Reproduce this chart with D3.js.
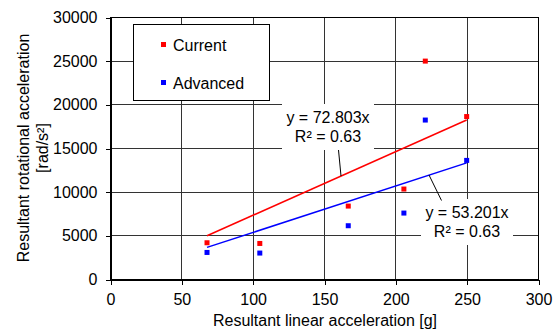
<!DOCTYPE html>
<html>
<head>
<meta charset="utf-8">
<script src="https://cdn.jsdelivr.net/npm/d3@7"></script>
<style>
  body { margin: 0; background: #fff; }
  text { font-family: "Liberation Sans", Arial, sans-serif; font-size: 16px; fill: #000; }
</style>
</head>
<body>
<div id="wrapper"></div>
<script>
// data
const linearAcc = [68, 105, 167, 206, 221, 250];
const currentRot = [4150, 4070, 8350, 10300, 24950, 18600];
const advancedRot = [3040, 2970, 6100, 7550, 18200, 13580];
const seriesNames = ["Current", "Advanced"];
const seriesColors = ["#ff0000", "#0000ff"];
const slopes = [72.803, 53.201];
const r2 = [0.63, 0.63];
const xTicks = [0, 50, 100, 150, 200, 250, 300];
const yTicks = [0, 5000, 10000, 15000, 20000, 25000, 30000];

function build() {
    var dimension = {
        width: 558,
        height: 331,
        margin: { top: 17, right: 20, bottom: 52, left: 110 }
    };

    const svg = d3.select("#wrapper")
        .append("svg")
        .attr("width", dimension.width)
        .attr("height", dimension.height);

    const x = d3.scaleLinear().domain([0, 300]).range([110, 538]);
    const y = d3.scaleLinear().domain([0, 30000]).range([279, 17]);

    // grid
    const grid = svg.append("g").attr("shape-rendering", "crispEdges");
    grid.selectAll(".vg").data(xTicks).enter().append("line")
        .attr("x1", d => Math.round(x(d)) + 0.5).attr("x2", d => Math.round(x(d)) + 0.5)
        .attr("y1", y(0)).attr("y2", y(30000))
        .attr("stroke", "#333").attr("stroke-width", 1);
    grid.selectAll(".hg").data(yTicks).enter().append("line")
        .attr("y1", d => Math.round(y(d)) + 0.5).attr("y2", d => Math.round(y(d)) + 0.5)
        .attr("x1", x(0)).attr("x2", x(300))
        .attr("stroke", "#333").attr("stroke-width", 1);
    // plot border
    grid.append("rect")
        .attr("x", Math.round(x(0)) + 0.5).attr("y", Math.round(y(30000)) + 0.5)
        .attr("width", Math.round(x(300)) - Math.round(x(0)))
        .attr("height", Math.round(y(0)) - Math.round(y(30000)))
        .attr("fill", "none").attr("stroke", "#000");

    // axes
    const xAxis = svg.append("g")
        .attr("transform", `translate(0.5,${Math.round(y(0)) + 0.5})`)
        .call(d3.axisBottom(x).tickValues(xTicks).tickSize(5).tickSizeOuter(0).tickPadding(9));
    const yAxis = svg.append("g")
        .attr("transform", `translate(${Math.round(x(0)) + 0.5},0.5)`)
        .call(d3.axisLeft(y).tickValues(yTicks).tickSize(5).tickSizeOuter(0).tickPadding(8).tickFormat(d3.format("d")));
    [xAxis, yAxis].forEach(a => {
        a.selectAll("path,line").attr("stroke", "#000").attr("shape-rendering", "crispEdges");
        a.selectAll("text").style("font-size", "16px").style("font-family", "Liberation Sans, Arial, sans-serif").attr("fill", "#000");
    });

    // axis titles
    svg.append("text")
        .attr("x", 325).attr("y", 326)
        .attr("text-anchor", "middle")
        .text("Resultant linear acceleration [g]");
    svg.append("text")
        .attr("transform", "translate(29,148) rotate(-90)")
        .attr("text-anchor", "middle")
        .text("Resultant rotational acceleration");
    svg.append("text")
        .attr("transform", "translate(48,148) rotate(-90)")
        .attr("text-anchor", "middle")
        .text("[rad/s²]");

    // trendlines
    const series = [currentRot, advancedRot];
    const xMin = d3.min(linearAcc), xMax = d3.max(linearAcc);
    slopes.forEach((s, i) => {
        svg.append("line")
            .attr("x1", x(xMin)).attr("y1", y(s * xMin))
            .attr("x2", x(xMax)).attr("y2", y(s * xMax))
            .attr("stroke", seriesColors[i]).attr("stroke-width", 1.5);
    });

    // markers
    series.forEach((vals, i) => {
        svg.append("g").selectAll("rect")
            .data(vals).enter().append("rect")
            .attr("x", (d, j) => x(linearAcc[j]) - 2.5)
            .attr("y", d => y(d) - 2.5)
            .attr("width", 5).attr("height", 5)
            .attr("fill", seriesColors[i]);
    });

    // trendline labels
    const labels = [
        { cx: 328, top: 104, lead: [338.5, 150, 341, 176], i: 0 },
        { cx: 467, top: 199, lead: [441.5, 200.5, 429, 175], i: 1 }
    ];
    labels.forEach(l => {
        svg.append("rect")
            .attr("x", l.cx - 46).attr("y", l.top)
            .attr("width", 92).attr("height", 46)
            .attr("fill", "#fff");
        svg.append("line")
            .attr("x1", l.lead[0]).attr("y1", l.lead[1])
            .attr("x2", l.lead[2]).attr("y2", l.lead[3])
            .attr("stroke", "#000").attr("stroke-width", 1);
        svg.append("text")
            .attr("x", l.cx).attr("y", l.top + 19)
            .attr("text-anchor", "middle")
            .text(`y = ${slopes[l.i].toFixed(3)}x`);
        svg.append("text")
            .attr("x", l.cx).attr("y", l.top + 38)
            .attr("text-anchor", "middle")
            .text(`R² = ${r2[l.i].toFixed(2)}`);
    });

    // legend
    const legend = svg.append("g");
    legend.append("rect")
        .attr("x", 133.5).attr("y", 24.5)
        .attr("width", 136).attr("height", 76)
        .attr("fill", "#fff").attr("stroke", "#000").attr("stroke-width", 1);
    seriesNames.forEach((n, i) => {
        legend.append("rect")
            .attr("x", 161).attr("y", 42 + i * 38)
            .attr("width", 5).attr("height", 5)
            .attr("fill", seriesColors[i]);
        legend.append("text")
            .attr("x", 173).attr("y", 51 + i * 38)
            .text(n);
    });
}

build();
</script>
</body>
</html>
